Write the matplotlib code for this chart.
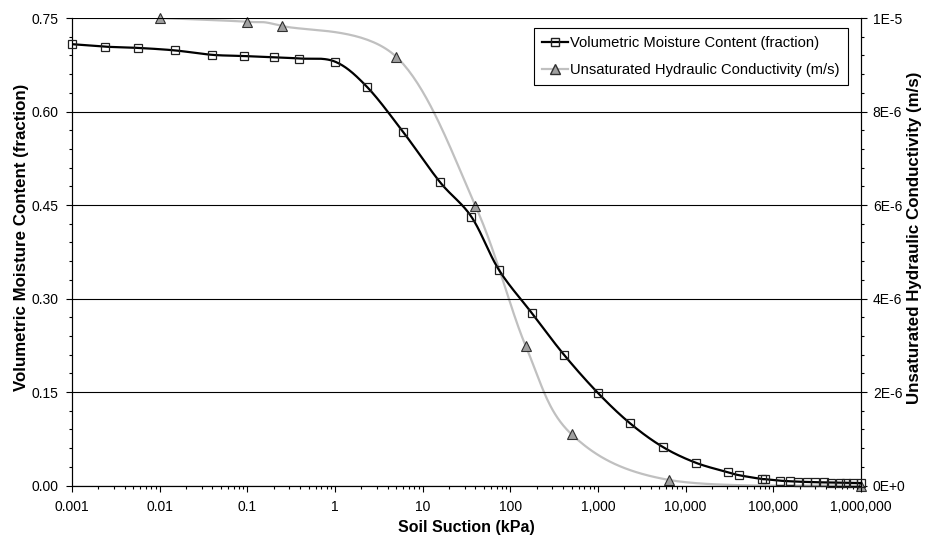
import numpy as np
import matplotlib
matplotlib.use('Agg')
import matplotlib.pyplot as plt
from matplotlib.ticker import FixedLocator, FuncFormatter, MultipleLocator, NullFormatter

plt.rcParams['font.family'] = ['Liberation Sans', 'DejaVu Sans']

# Volumetric moisture content (fraction) vs soil suction (kPa)
suction_vwc = [0.001, 0.0024, 0.0057, 0.015, 0.039, 0.091, 0.2, 0.39, 1.0, 2.3, 6.0,
               15.7, 36, 74, 175, 408, 990, 2310, 5460, 13000, 30800, 40400,
               73300, 80000, 118600, 155000, 190000, 240000, 300000, 375000,
               460000, 570000, 680000, 800000, 1000000]
vwc = [0.708, 0.704, 0.702, 0.698, 0.691, 0.689, 0.687, 0.685, 0.680, 0.640, 0.567,
       0.487, 0.431, 0.346, 0.277, 0.210, 0.149, 0.100, 0.062, 0.0366, 0.021, 0.0166,
       0.0105, 0.0102, 0.0078, 0.0068, 0.0062, 0.0057, 0.0053, 0.0050,
       0.0047, 0.0045, 0.0043, 0.0041, 0.0040]

# Unsaturated hydraulic conductivity (m/s) vs soil suction (kPa)
suction_k = [0.01, 0.1, 0.25, 5, 40, 150, 500, 6500, 1000000]
k_unsat = [1.0e-5, 0.992e-5, 0.983e-5, 0.917e-5, 0.598e-5, 0.298e-5, 0.1095e-5, 0.0118e-5, 0.0]

x_ticks = [0.001, 0.01, 0.1, 1, 10, 100, 1000, 10000, 100000, 1000000]
x_labels = ['0.001', '0.01', '0.1', '1', '10', '100', '1,000', '10,000', '100,000', '1,000,000']
vwc_ticks = [0, 0.15, 0.30, 0.45, 0.60, 0.75]
k_ticks = [0, 2e-6, 4e-6, 6e-6, 8e-6, 1e-5]
k_labels = ['0E+0', '2E-6', '4E-6', '6E-6', '8E-6', '1E-5']


def smooth(xs, ys, n=40):
    # Catmull-Rom through the points in (log10 x, y), like Excel's smoothed line
    u = np.log10(np.asarray(xs, float))
    v = np.asarray(ys, float)
    pu = np.concatenate([[u[0]], u, [u[-1]]])
    pv = np.concatenate([[v[0]], v, [v[-1]]])
    out_u, out_v = [], []
    t = np.linspace(0, 1, n)
    for i in range(1, len(pu) - 2):
        b0u, b3u = pu[i], pu[i + 1]
        b0v, b3v = pv[i], pv[i + 1]
        b1u = b0u + (pu[i + 1] - pu[i - 1]) / 6
        b1v = b0v + (pv[i + 1] - pv[i - 1]) / 6
        b2u = b3u - (pu[i + 2] - pu[i]) / 6
        b2v = b3v - (pv[i + 2] - pv[i]) / 6
        cu = (1 - t)**3 * b0u + 3 * (1 - t)**2 * t * b1u + 3 * (1 - t) * t**2 * b2u + t**3 * b3u
        cv = (1 - t)**3 * b0v + 3 * (1 - t)**2 * t * b1v + 3 * (1 - t) * t**2 * b2v + t**3 * b3v
        out_u.append(cu)
        out_v.append(cv)
    return 10**np.concatenate(out_u), np.concatenate(out_v)


fig = plt.figure(figsize=(9.27, 5.36), dpi=100)
ax = fig.add_axes([0.0777, 0.0942, 0.8511, 0.8722])
ax2 = ax.twinx()

# gridlines
ax.set_axisbelow(True)
ax.yaxis.grid(True, which='major', color='black', linewidth=0.8)

# gray conductivity curve on the right axis
sx, sy = smooth(suction_k, k_unsat)
ax2.plot(sx, sy, color='#c0c0c0', linewidth=1.6, zorder=2)
ax2.plot(suction_k, k_unsat, linestyle='none', marker='^', markersize=6.5,
         markerfacecolor='#a0a0a0', markeredgecolor='#303030', markeredgewidth=0.8,
         zorder=3, clip_on=False)

# black moisture curve on the left axis
mx, my = smooth(suction_vwc, vwc)
ax.plot(mx, my, color='black', linewidth=1.6, zorder=3)
ax.plot(suction_vwc, vwc, linestyle='none', marker='s', markersize=6,
        markerfacecolor='none', markeredgecolor='#202020', markeredgewidth=0.9,
        zorder=4, clip_on=False)
ax.set_zorder(ax2.get_zorder() + 1)
ax.patch.set_visible(False)

# axes
ax.set_xscale('log')
ax.set_xlim(0.001, 1000000)
ax.set_ylim(0, 0.75)
ax2.set_ylim(0, 1e-5)

ax.xaxis.set_major_locator(FixedLocator(x_ticks))
ax.set_xticklabels(x_labels)
minor = [m * d for d in x_ticks[:-1] for m in range(2, 10)]
ax.xaxis.set_minor_locator(FixedLocator(minor))
ax.xaxis.set_minor_formatter(NullFormatter())
ax.yaxis.set_major_locator(FixedLocator(vwc_ticks))
ax.yaxis.set_minor_locator(MultipleLocator(0.03))
ax.yaxis.set_major_formatter(FuncFormatter(lambda v, p: f'{v:.2f}'))
ax2.yaxis.set_major_locator(FixedLocator(k_ticks))
ax2.yaxis.set_minor_locator(MultipleLocator(0.4e-6))
ax2.set_yticklabels(k_labels)

for a in (ax, ax2):
    a.tick_params(which='major', direction='out', length=4.5, width=0.8, labelsize=10,
                  colors='black')
    a.tick_params(which='minor', direction='out', length=2.5, width=0.8, colors='black')
    for s in a.spines.values():
        s.set_linewidth(0.8)
    a.spines['top'].set_visible(False)
ax.tick_params(axis='x', which='major', pad=6)
ax.tick_params(axis='y', which='major', pad=5)
ax2.tick_params(axis='y', which='major', pad=4)

ax.set_xlabel('Soil Suction (kPa)', fontsize=11.5, fontweight='bold', labelpad=4)
ax.set_ylabel('Volumetric Moisture Content (fraction)', fontsize=12.2, fontweight='bold')
ax2.set_ylabel('Unsaturated Hydraulic Conductivity (m/s)', fontsize=12.2, fontweight='bold')
ax.yaxis.set_label_coords(-0.055, 0.53)
ax2.yaxis.set_label_coords(1.0585, 0.53)

# legend
h1, = ax.plot([], [], color='black', linewidth=1.6, marker='s', markersize=6,
              markerfacecolor='none', markeredgecolor='#202020')
h2, = ax.plot([], [], color='#c0c0c0', linewidth=1.6, marker='^', markersize=6.5,
              markerfacecolor='#a0a0a0', markeredgecolor='#303030')
leg = ax.legend([h1, h2], ['Volumetric Moisture Content (fraction)',
                           'Unsaturated Hydraulic Conductivity (m/s)'],
                loc='upper right', bbox_to_anchor=(0.9835, 0.9786), fontsize=10.6,
                frameon=True, fancybox=False, edgecolor='black', framealpha=1,
                handlelength=1.8, handletextpad=0.15, labelspacing=0.9,
                borderpad=0.55, borderaxespad=0)
leg.get_frame().set_linewidth(0.8)

fig.savefig('out.png', dpi=100)
